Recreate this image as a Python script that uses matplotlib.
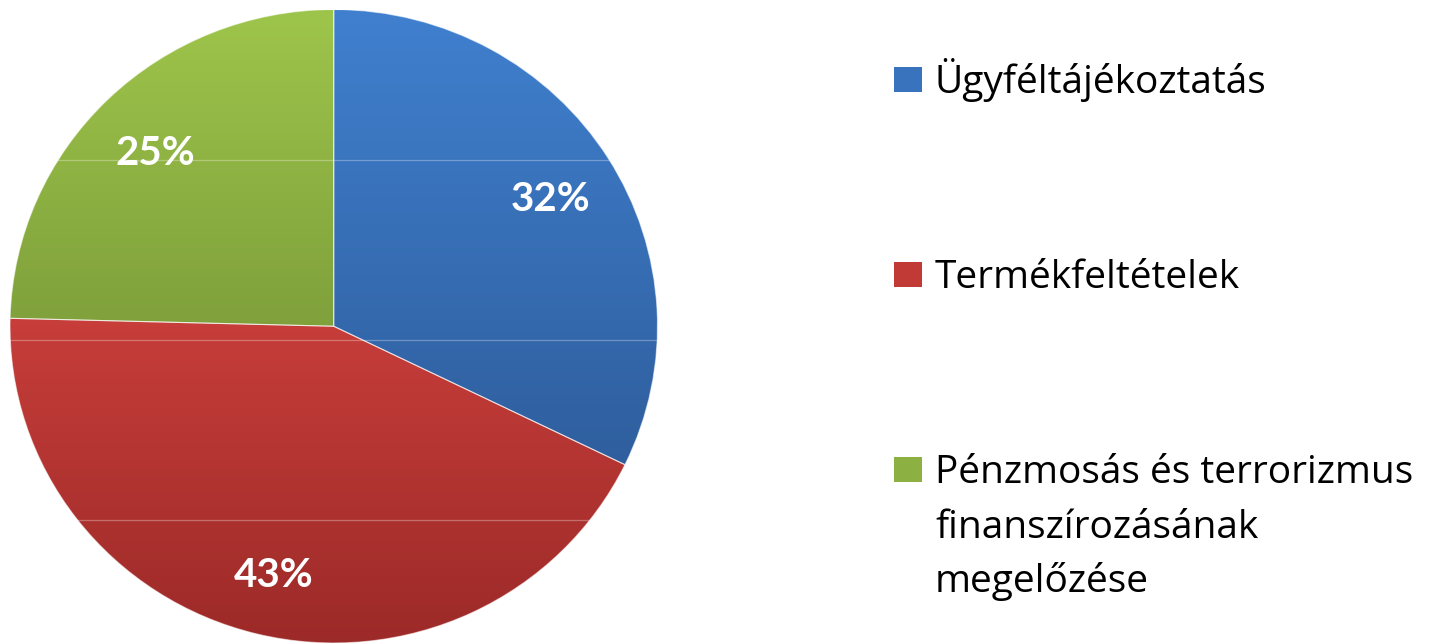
import numpy as np
import matplotlib
matplotlib.use("Agg")
import matplotlib.pyplot as plt
from matplotlib.patches import Rectangle
from matplotlib.colors import to_rgb
from matplotlib.transforms import ScaledTranslation

# data
categories = ["Ügyféltájékoztatás",
              "Termékfeltételek",
              "Pénzmosás és terrorizmus\nfinanszírozásának\nmegelőzése"]
shares = [32.2, 43.2, 24.6]

# gradient colours (top of pie -> bottom of pie)
grad_top = ["#4080cf", "#f0504b", "#9ec54b"]
grad_bottom = ["#28518a", "#9c2a28", "#617c2c"]
legend_colors = ["#3a73bd", "#c23a36", "#8cb042"]

plt.rcParams["font.family"] = ["Lato", "DejaVu Sans"]

W, H = 1429, 644
fig = plt.figure(figsize=(W / 100, H / 100), dpi=100)

# pie axes, slightly wider than tall like the original
ax = fig.add_axes([10 / W, (H - 643) / H, 647.5 / W, 633.5 / H])
wedges, texts, autotexts = ax.pie(
    shares, startangle=90, counterclock=False, radius=1.0,
    autopct="%.0f%%", pctdistance=0.79,
    wedgeprops=dict(edgecolor=(1, 1, 1, 0.55), linewidth=0.8),
    textprops=dict(color="white", fontsize=29, fontweight="bold"))
ax.set_aspect("auto")
ax.set_xlim(-1, 1)
ax.set_ylim(-1, 1)
ax.axis("off")

# vertical gradient fill clipped to every wedge
yy = np.linspace(1, -1, 400)[:, None]
t = (1 - yy) / 2
for w, ctop, cbot in zip(wedges, grad_top, grad_bottom):
    c0 = np.array(to_rgb(ctop))
    c1 = np.array(to_rgb(cbot))
    img = (c0[None, None, :] * (1 - t[..., None]) + c1[None, None, :] * t[..., None])
    img = np.repeat(img, 2, axis=1)
    w.set_facecolor("none")
    im = ax.imshow(img, extent=[-1, 1, -1, 1], aspect="auto", zorder=0.5,
                   interpolation="bilinear")
    im.set_clip_path(w)
    w.set_zorder(1)

# faint banding lines that show in the original rendering
for yb in [(326 - 160) / 317, (326 - 340) / 317, (326 - 520) / 317]:
    xb = np.sqrt(max(0.0, 1 - yb ** 2))
    ax.plot([-xb, xb], [yb, yb], color="white", alpha=0.3, lw=0.9, zorder=1.5)

# labels sit a little lower in the original
shift = ScaledTranslation(0, -6 / 100, fig.dpi_scale_trans)
for t_ in autotexts:
    t_.set_zorder(3)
    t_.set_transform(t_.get_transform() + shift)

# legend drawn by hand, one text per line so the first baseline is fixed
baselines = [93, 288, 483]
line_step = 54.5
for lab, col, yb in zip(categories, legend_colors, baselines):
    fig.patches.append(Rectangle((894 / W, (H - yb + 1) / H), 28 / W, 25 / H,
                                 transform=fig.transFigure, facecolor=col,
                                 edgecolor="none"))
    for i, line in enumerate(lab.split("\n")):
        fig.text(935 / W, (H - yb - i * line_step) / H, line, fontsize=28,
                 family=["Open Sans", "DejaVu Sans"], color="black",
                 ha="left", va="baseline")

fig.savefig("out.png", dpi=100)
